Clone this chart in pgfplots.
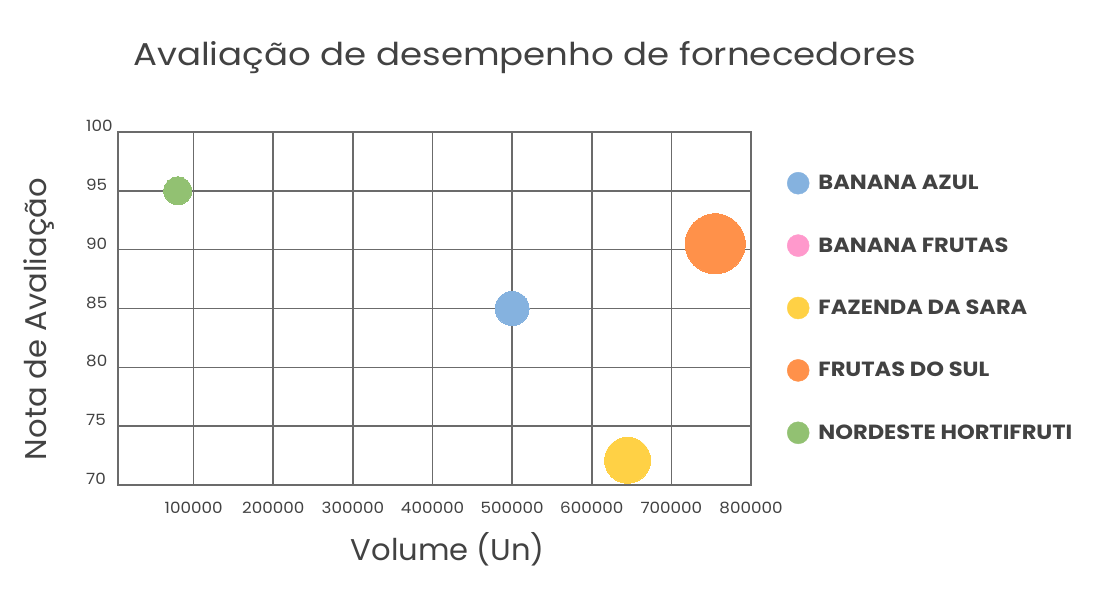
\documentclass[border=0pt]{standalone}
\usepackage{pgfplots}
\pgfplotsset{compat=1.18}
\usepackage{fontspec}
\setmainfont{Poppins}
\newfontfamily\titlefont[FakeStretch=1.13]{Poppins}
\newfontfamily\labfont[FakeStretch=1.02]{Poppins}
\newfontfamily\tickfont[FakeStretch=1.08]{Poppins}
\newfontfamily\legfont[FakeStretch=1.1]{Poppins}
\definecolor{cBlue}{HTML}{85B2DF}
\definecolor{cPink}{HTML}{FF99CC}
\definecolor{cYellow}{HTML}{FFD145}
\definecolor{cOrange}{HTML}{FF914A}
\definecolor{cGreen}{HTML}{92C172}
\definecolor{txt}{HTML}{424242}
\definecolor{gridc}{HTML}{6B6B6B}
\begin{document}
\begin{tikzpicture}
\path[use as bounding box] (0,0) rectangle (1105pt,611pt);
\begin{axis}[
  at={(118pt,126pt)}, anchor=south west,
  width=633pt, height=353pt, scale only axis,
  xmin=5000, xmax=800000, ymin=70, ymax=100,
  clip=false,
  scaled x ticks=false, scaled y ticks=false,
  xtick={100000,200000,300000,400000,500000,600000,700000,800000},
  xticklabels={100000,200000,300000,400000,500000,600000,700000,800000},
  ytick={70,75,80,85,90,95,100},
  yticklabels={70,75,80,85,90,95,100},
  major tick length=0pt,
  grid=major, grid style={gridc, line width=1.6pt},
  axis line style={gridc, line width=1.6pt},
  tick label style={font=\tickfont\fontsize{15.5}{18}\selectfont, text=txt, inner sep=0pt},
  xticklabel style={anchor=north, yshift=-17pt},
  yticklabel style={anchor=west, xshift=-32pt, yshift=6pt},
  title={Avaliação de desempenho de fornecedores},
  title style={at={(axis description cs:0.0237,1.17)}, anchor=base west, inner sep=0pt, font=\titlefont\fontsize{31.5}{36}\selectfont, text=txt},
  xlabel={Volume (Un)},
  xlabel style={at={(axis description cs:0.521,-0.181)}, anchor=center, inner sep=0pt, font=\labfont\fontsize{30}{36}\selectfont, text=txt},
  ylabel={Nota de Avaliação},
  ylabel style={at={(axis description cs:-0.125,0.47)}, anchor=center, rotate=0, inner sep=0pt, font=\labfont\fontsize{30}{36}\selectfont, text=txt},
  legend cell align=left,
  legend style={at={(1,1)}, anchor=north west, xshift=36pt, yshift=-40pt,
    draw=none, fill=none, inner sep=0pt, outer sep=0pt,
    row sep=40pt, column sep=9pt,
    font=\legfont\bfseries\fontsize{20.5}{24}\selectfont, text=txt,
    nodes={inner sep=0pt}},
]
\addplot[only marks, mark=*, color=cGreen, mark size=14pt, mark options={draw=cGreen, fill=cGreen, line width=0pt}, forget plot] coordinates {(80000,95)};
\addplot[only marks, mark=*, color=cBlue, mark size=17pt, mark options={draw=cBlue, fill=cBlue, line width=0pt}, forget plot] coordinates {(500000,85)};
\addplot[only marks, mark=*, color=cYellow, mark size=23pt, mark options={draw=cYellow, fill=cYellow, line width=0pt}, forget plot] coordinates {(645000,72.1)};
\addplot[only marks, mark=*, color=cOrange, mark size=30pt, mark options={draw=cOrange, fill=cOrange, line width=0pt}, forget plot] coordinates {(755000,90.5)};
\addlegendimage{legend image code/.code={\fill[cBlue] (0pt,0pt) circle (11pt);}}
\addlegendentry{BANANA AZUL}
\addlegendimage{legend image code/.code={\fill[cPink] (0pt,0pt) circle (11pt);}}
\addlegendentry{BANANA FRUTAS}
\addlegendimage{legend image code/.code={\fill[cYellow] (0pt,0pt) circle (11pt);}}
\addlegendentry{FAZENDA DA SARA}
\addlegendimage{legend image code/.code={\fill[cOrange] (0pt,0pt) circle (11pt);}}
\addlegendentry{FRUTAS DO SUL}
\addlegendimage{legend image code/.code={\fill[cGreen] (0pt,0pt) circle (11pt);}}
\addlegendentry{NORDESTE HORTIFRUTI}
\end{axis}
\end{tikzpicture}
\end{document}
